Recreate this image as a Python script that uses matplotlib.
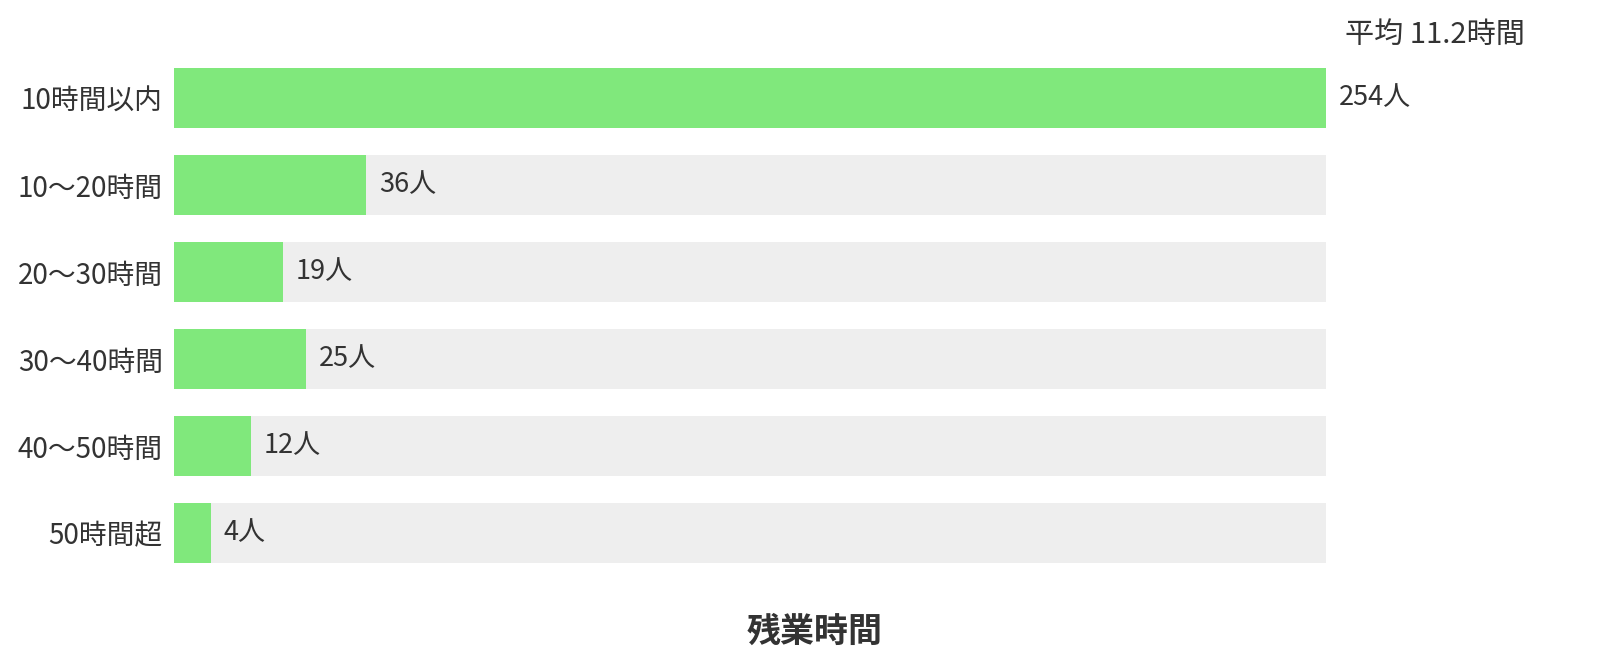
import matplotlib
matplotlib.use("Agg")
import matplotlib.pyplot as plt
import numpy as np

plt.rcParams["font.family"] = ["Noto Sans CJK JP", "DejaVu Sans"]

COLOR_BAR   = "#80e87c"
COLOR_TRACK = "#eeeeee"
COLOR_TEXT  = "#333333"

# overtime bands, head counts and bar length as drawn (% of full track)
categories = ["10時間以内", "10〜20時間", "20〜30時間", "30〜40時間", "40〜50時間", "50時間超"]
counts     = [254, 36, 19, 25, 12, 4]
bar_share  = [100, 16.7, 9.5, 11.5, 6.7, 3.2]
average_label = "平均 11.2時間"
axis_title    = "残業時間"

fig = plt.figure(figsize=(16.06, 6.56), dpi=100)
ax = fig.add_axes([0.1083, 0.1212, 0.7173, 0.7957])

y = np.arange(len(categories))
h = 0.70
ax.barh(y, [100] * len(categories), height=h, color=COLOR_TRACK, zorder=1)
ax.barh(y, bar_share, height=h, color=COLOR_BAR, zorder=2)

for yi, (share, n) in enumerate(zip(bar_share, counts)):
    ax.annotate(f"{n}人", xy=(share, yi), xytext=(9, 0),
                textcoords="offset points", va="center", ha="left",
                fontsize=19.5, color=COLOR_TEXT)

ax.set_xlim(0, 100)
ax.set_ylim(len(categories) - 0.5, -0.5)
ax.set_yticks(y)
ax.set_yticklabels(categories, fontsize=20, color=COLOR_TEXT)
ax.tick_params(axis="y", length=0, pad=8)
ax.set_xticks([])
for spine in ax.spines.values():
    spine.set_visible(False)

fig.text(1345 / 1606, 1 - 35 / 656, average_label, ha="left", va="center",
         fontsize=21, color=COLOR_TEXT)
fig.text(815 / 1606, 1 - 631 / 656, axis_title, ha="center", va="center",
         fontsize=24.5, fontweight="bold", color=COLOR_TEXT)

fig.savefig("out.png", dpi=100)
